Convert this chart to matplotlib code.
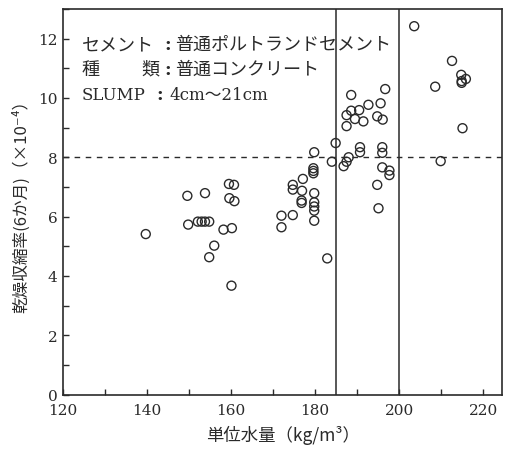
import matplotlib
matplotlib.use("Agg")
import matplotlib.pyplot as plt
from matplotlib.ticker import MultipleLocator

# ---- data (unit water content kg/m3, drying shrinkage x10^-4) ----
water = [
    203.6, 212.6, 208.6, 214.8, 215.9, 214.9, 214.9, 215.1, 209.9,
    188.6, 196.7, 192.7, 195.6, 188.6, 190.5, 187.5, 189.5, 191.5, 194.8,
    196.1, 187.5, 184.9, 190.7, 190.7, 196.0, 196.0, 184.0, 188.0, 187.5,
    186.8, 196.0, 197.7, 197.7, 194.8, 195.1, 182.9,
    179.8, 179.6, 179.6, 179.6, 179.8, 179.8, 179.8, 179.8, 179.8,
    177.1, 174.7, 174.7, 176.9, 176.8, 176.8, 174.7, 172.0, 172.0,
    139.7, 149.6, 153.8, 149.8, 152.1, 153.0, 153.8, 154.8,
    159.5, 160.7, 159.6, 160.8, 158.2, 160.2, 156.0, 154.8, 160.1,
]
shrink = [
    12.42, 11.25, 10.38, 10.78, 10.64, 10.57, 10.51, 8.98, 7.87,
    10.10, 10.30, 9.77, 9.82, 9.57, 9.59, 9.42, 9.29, 9.21, 9.38,
    9.27, 9.05, 8.48, 8.34, 8.17, 8.34, 8.15, 7.85, 8.00, 7.85,
    7.70, 7.66, 7.55, 7.40, 7.07, 6.28, 4.59,
    8.17, 7.63, 7.54, 7.46, 6.79, 6.48, 6.34, 6.20, 5.86,
    7.27, 7.07, 6.91, 6.87, 6.54, 6.46, 6.05, 6.03, 5.64,
    5.41, 6.70, 6.79, 5.73, 5.83, 5.83, 5.83, 5.83,
    7.10, 7.07, 6.62, 6.52, 5.56, 5.61, 5.02, 4.63, 3.67,
]
vlines_x = [185, 200]
hline_y = 8

note_labels = ["セメント", "種", "SLUMP"]
note_values = ["普通ポルトランドセメント", "普通コンクリート", "4cm～21cm"]

xlabel = "単位水量（kg/m³）"
ylabel = "乾燥収縮率(6か月)（×10⁻⁴）"

CJK = ["Noto Sans CJK JP", "DejaVu Sans"]
INK = "#2a2a2a"

fig = plt.figure(figsize=(5.05, 4.52), dpi=100)
ax = fig.add_axes([63 / 505, 1 - 395.5 / 452, (502 - 63) / 505, (395.5 - 10) / 452])

ax.scatter(water, shrink, s=42, facecolors="none", edgecolors=INK, linewidths=1.0, zorder=3)

for xv in vlines_x:
    ax.axvline(xv, color=INK, lw=1.1, zorder=2)
ax.axhline(hline_y, color=INK, lw=1.0, ls=(0, (4, 4)), zorder=2)

ax.set_xlim(120, 224.5)
ax.set_ylim(0, 13)
ax.xaxis.set_major_locator(MultipleLocator(20))
ax.xaxis.set_minor_locator(MultipleLocator(10))
ax.yaxis.set_major_locator(MultipleLocator(2))
ax.yaxis.set_minor_locator(MultipleLocator(1))
ax.tick_params(which="both", direction="in", length=4, width=1, color=INK,
               top=False, right=False)
ax.tick_params(which="major", labelsize=11, labelcolor=INK)
ax.tick_params(axis="x", which="major", pad=6)
ax.tick_params(axis="y", which="major", pad=4)
for lab in ax.get_xticklabels() + ax.get_yticklabels():
    lab.set_fontfamily("DejaVu Serif")
for sp in ax.spines.values():
    sp.set_color(INK)
    sp.set_linewidth(1.2)

ax.set_xlabel(xlabel, fontsize=12.5, family=CJK, color=INK, labelpad=6)
ax.set_ylabel(ylabel, fontsize=12, family=CJK, color=INK, labelpad=6)

# annotation block (colons aligned)
rows_y = [11.82, 10.98, 10.13]
colon_x = [145.0, 145.0, 143.1]
value_x = [146.7, 146.7, 145.3]
label_size = [13, 13, 12]
for lab, val, yy, cx, vx, fs in zip(note_labels, note_values, rows_y, colon_x, value_x, label_size):
    fam = ["DejaVu Serif"] if lab == "SLUMP" else CJK
    ax.text(124.5, yy, lab, fontsize=fs, family=fam, color=INK, va="center", ha="left")
    ax.text(cx, yy, ":", fontsize=13, family="DejaVu Serif", color=INK,
            va="center", ha="center", fontweight="bold")
    valfam = ["DejaVu Serif", "Noto Sans CJK JP"] if lab == "SLUMP" else CJK
    ax.text(vx, yy, val, fontsize=fs, family=valfam, color=INK, va="center", ha="left")
ax.text(138.6, rows_y[1], "類", fontsize=13, family=CJK, color=INK, va="center", ha="left")

fig.savefig("out.png", dpi=100)
